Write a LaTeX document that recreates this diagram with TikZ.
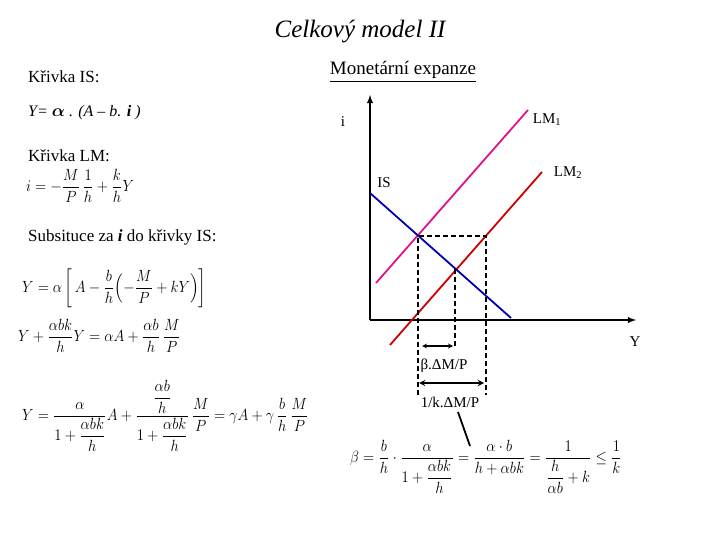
\documentclass[tikz,border=0pt]{standalone}
\usepackage{fontspec}
\setmainfont{Liberation Serif}
\usepackage{amsmath}
\newcommand{\eqbox}[1]{\scalebox{1.22}[1.35]{#1}}
\begin{document}
\begin{tikzpicture}[x=1pt,y=-1pt,
  txt/.style={anchor=west,inner sep=0pt,font=\fontsize{17}{19}\selectfont},
  eq/.style={anchor=west,inner sep=0pt,font=\fontsize{13}{15}\selectfont},
  lab/.style={inner sep=0pt,font=\fontsize{15}{17}\selectfont},
  ax/.style={line width=1.8pt,-latex},
  dsh/.style={dash pattern=on 5pt off 3pt,line width=1.3pt},
  dim/.style={line width=1.2pt,<->,>=stealth}]
\useasboundingbox (0,0) rectangle (720,540);
\node[inner sep=0pt,font=\fontsize{25}{28}\selectfont\itshape] (title) at (360,32) {Celkový model II};
\node[txt] (t1) at (28,77) {Křivka IS:};
\node[txt,font=\fontsize{16}{18}\selectfont\itshape] (t2) at (28,113) {Y= $\boldsymbol{\alpha}$ . (A – b. \textbf{i} )};
\node[txt] (t3) at (28,156) {Křivka LM:};
\node[eq] (e1) at (26,186) {\eqbox{$i=-\dfrac{M}{P}\,\dfrac{1}{h}+\dfrac{k}{h}Y$}};
\node[txt] (t4) at (28,237) {Subsituce za \textbf{\textit{i}} do křivky IS:};
\node[eq] (e2) at (22,288) {\eqbox{$Y=\alpha\left[\,A-\dfrac{b}{h}\Bigl(-\dfrac{M}{P}+kY\Bigr)\right]$}};
\node[eq] (e3) at (18,336) {\eqbox{$Y+\dfrac{\alpha bk}{h}Y=\alpha A+\dfrac{\alpha b}{h}\,\dfrac{M}{P}$}};
\node[eq] (e4) at (22,416) {\eqbox{$Y=\dfrac{\alpha}{1+\dfrac{\alpha bk}{h}}A+\dfrac{\dfrac{\alpha b}{h}}{1+\dfrac{\alpha bk}{h}}\,\dfrac{M}{P}=\gamma A+\gamma\,\dfrac{b}{h}\,\dfrac{M}{P}$}};
\node[inner sep=0pt,font=\fontsize{19}{21}\selectfont] (mon) at (403,72) {\underline{Monetární expanze}};
\node[eq] (e5) at (350,467) {\eqbox{$\beta=\dfrac{b}{h}\cdot\dfrac{\alpha}{1+\dfrac{\alpha bk}{h}}=\dfrac{\alpha\cdot b}{h+\alpha bk}=\dfrac{1}{\dfrac{h}{\alpha b}+k}\leq\dfrac{1}{k}$}};
% axes
\coordinate (O) at (370,320);
\coordinate (Yt) at (370,95);
\coordinate (Xe) at (636,320);
\draw[ax] (O) -- (Yt);
\draw[ax] (O) -- (Xe);
\node[lab] (li) at (343,122) {i};
\node[lab] (lY) at (635,342) {Y};
% curves
\coordinate (a1) at (376,283); \coordinate (a2) at (528,110);
\coordinate (b1) at (390,345); \coordinate (b2) at (542,172);
\coordinate (c1) at (370,193); \coordinate (c2) at (511,318);
\draw[magenta!85!violet,line width=1.8pt] (a1) -- (a2);
\draw[red!80!black,line width=1.8pt] (b1) -- (b2);
\draw[blue!70!black,line width=1.8pt] (c1) -- (c2);
\node[lab] (lLM1) at (547,120) {LM\textsubscript{1}};
\node[lab] (lLM2) at (568,173) {LM\textsubscript{2}};
\node[lab] (lIS) at (384,183) {IS};
% dashed
\coordinate (p1) at (418,236); \coordinate (p2) at (486,236); \coordinate (p3) at (455,269);
\coordinate (q1) at (418,395); \coordinate (q2) at (486,395); \coordinate (q3) at (455,348);
\draw[dsh] (q1) -- (p1) -- (p2) -- (q2);
\draw[dsh] (p3) -- (q3);
\coordinate (r1) at (422,346); \coordinate (r2) at (453,346);
\coordinate (s1) at (419,383); \coordinate (s2) at (484,383);
\draw[dim] (r1) -- (r2);
\draw[dim,line width=1.8pt] (s1) -- (s2);
\node[lab] (lb) at (444,366) {β.ΔM/P};
\node[lab] (lk) at (450,402) {1/k.ΔM/P};
\coordinate (m1) at (458,412); \coordinate (m2) at (470,446);
\draw[line width=1.8pt] (m1) -- (m2);
\end{tikzpicture}
\end{document}
